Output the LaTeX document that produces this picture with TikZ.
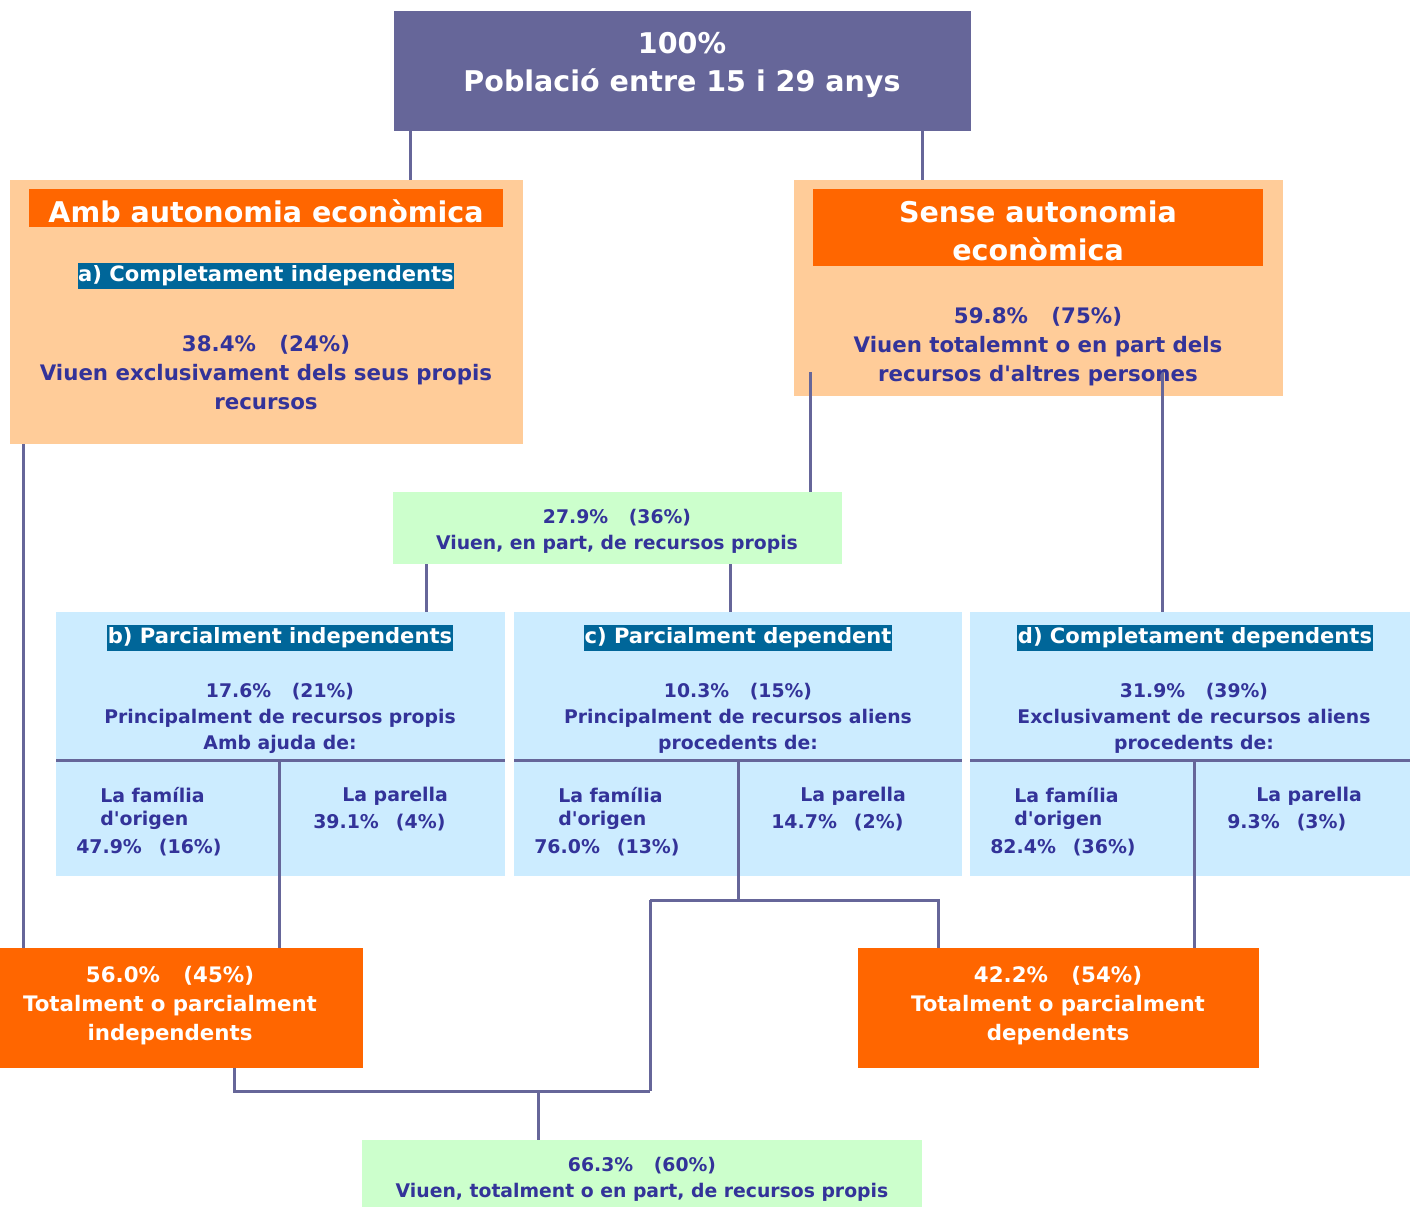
\documentclass[tikz,border=0pt]{standalone}
\usepackage{fontspec}
\setmainfont{DejaVu Sans}[Ligatures=TeXOff]
\definecolor{topc}{HTML}{666699}
\definecolor{lorange}{HTML}{FFCC99}
\definecolor{orange}{HTML}{FF6600}
\definecolor{labc}{HTML}{006699}
\definecolor{lblue}{HTML}{CCECFF}
\definecolor{lgreen}{HTML}{CCFFCC}
\definecolor{txtc}{HTML}{333399}
\definecolor{linec}{HTML}{666699}
\begin{document}
\begin{tikzpicture}[x=0.75pt,y=-0.75pt,
  bx/.style 2 args={inner sep=0pt,outer sep=0pt,anchor=north west,minimum width=#1*0.75pt,minimum height=#2*0.75pt},
  conn/.style={draw=linec,line width=2.25pt},
  body/.style={text=txtc,font=\bfseries\fontsize{16}{21.75}\selectfont,align=center,inner sep=0pt},
  small/.style={text=txtc,font=\bfseries\fontsize{14.1}{19.5}\selectfont,align=center,inner sep=0pt},
  cell/.style={text=txtc,font=\bfseries\fontsize{14.2}{19}\selectfont,inner sep=0pt,anchor=west},
  wbody/.style={text=white,font=\bfseries\fontsize{16}{21.75}\selectfont,align=center,inner sep=0pt},
  head/.style={text=white,font=\bfseries\fontsize{21.4}{28.5}\selectfont,align=center,inner sep=0pt},
  lab/.style={text=white,fill=labc,font=\bfseries\fontsize{15.8}{17}\selectfont,inner xsep=0.5pt,inner ysep=2pt}
]
\fill[white] (0,0) rectangle (1410,1207);
\useasboundingbox (0,0) rectangle (1410,1207);

% boxes
\node[bx={577}{120},fill=topc] (top) at (394,11) {};
\node[bx={513}{264},fill=lorange] (L) at (10,180) {};
\node[bx={474}{38},fill=orange] (Lh) at (29,189) {};
\node[bx={489}{216},fill=lorange] (R) at (794,180) {};
\node[bx={450}{77},fill=orange] (Rh) at (813,189) {};
\node[bx={449}{72},fill=lgreen] (G1) at (393,492) {};
\node[bx={449}{264},fill=lblue] (B) at (56,612) {};
\node[bx={448}{264},fill=lblue] (C) at (514,612) {};
\node[bx={440}{264},fill=lblue] (D) at (970,612) {};
\node[bx={363}{120},fill=orange] (OL) at (0,948) {};
\node[bx={401}{120},fill=orange] (OR) at (858,948) {};
\node[bx={560}{67},fill=lgreen] (G2) at (362,1140) {};

% junction coordinates
\coordinate (r1) at (810,372);
\coordinate (r2) at (1162,372);
\coordinate (bd) at (279,760);
\coordinate (cd) at (738,760);
\coordinate (dd) at (1194,760);
\coordinate (cj) at (738,900);
\coordinate (cl) at (650,900);
\coordinate (cr) at (938,900);
\coordinate (bl) at (234,1091);
\coordinate (bm) at (538,1091);
\coordinate (br) at (650,1091);

% connectors
\draw[conn] (top.south -| 410,0) -- (L.north -| 410,0);
\draw[conn] (top.south -| 922,0) -- (R.north -| 922,0);
\draw[conn] (L.south -| 23,0) -- (OL.north -| 23,0);
\draw[conn] (r1) -- (G1.north -| r1);
\draw[conn] (r2) -- (D.north -| r2);
\draw[conn] (G1.south -| 426,0) -- (B.north -| 426,0);
\draw[conn] (G1.south -| 730,0) -- (C.north -| 730,0);
\draw[conn] (B.west |- bd) -- (B.east |- bd);
\draw[conn] (C.west |- cd) -- (C.east |- cd);
\draw[conn] (D.west |- dd) -- (D.east |- dd);
\draw[conn] (bd) -- (OL.north -| bd);
\draw[conn] (dd) -- (OR.north -| dd);
\draw[conn] (cd) -- (cj);
\draw[conn] (cl) -- (cr) -- (OR.north -| cr);
\draw[conn] (cl) -- (br);
\draw[conn] (OL.south -| bl) -- (bl) -- (br);
\draw[conn] (bm) -- (G2.north -| bm);

% texts
\node[head] (t0) at (682,65) {100\%\\Població entre 15 i 29 anys};
\node[head] (t1) at (266,211) {Amb autonomia econòmica};
\node[lab] (la) at (266,276) {a) Completament independents};
\node[body] (t2) at (266,373) {38.4\%\hspace{1.1em}(24\%)\\Viuen exclusivament dels seus propis\\recursos};
\node[head] (t3) at (1038,231) {Sense autonomia\\econòmica};
\node[body] (t4) at (1038,347) {59.8\%\hspace{1.1em}(75\%)\\Viuen totalemnt o en part dels\\recursos d'altres persones};
\node[small] (t5) at (617,531) {27.9\%\hspace{1.1em}(36\%)\\Viuen, en part, de recursos propis};

\node[lab] (lb) at (280,638) {b) Parcialment independents};
\node[small] (t6) at (280,718) {17.6\%\hspace{1.1em}(21\%)\\Principalment de recursos propis\\Amb ajuda de:};
\node[cell] (b1) at (100,795) {La família};
\node[cell] (b2) at (100,820) {d'origen};
\node[cell] (b3) at (76,848) {47.9\%\hspace{0.9em}(16\%)};
\node[cell] (b4) at (342,796) {La parella};
\node[cell] (b5) at (313,823) {39.1\%\hspace{0.9em}(4\%)};

\node[lab] (lc) at (738,638) {c) Parcialment dependent};
\node[small] (t7) at (738,718) {10.3\%\hspace{1.1em}(15\%)\\Principalment de recursos aliens\\procedents de:};
\node[cell] (c1) at (558,795) {La família};
\node[cell] (c2) at (558,820) {d'origen};
\node[cell] (c3) at (534,848) {76.0\%\hspace{0.9em}(13\%)};
\node[cell] (c4) at (800,796) {La parella};
\node[cell] (c5) at (771,823) {14.7\%\hspace{0.9em}(2\%)};

\node[lab] (ld) at (1195,638) {d) Completament dependents};
\node[small] (t8) at (1194,718) {31.9\%\hspace{1.1em}(39\%)\\Exclusivament de recursos aliens\\procedents de:};
\node[cell] (d1) at (1014,795) {La família};
\node[cell] (d2) at (1014,820) {d'origen};
\node[cell] (d3) at (990,848) {82.4\%\hspace{0.9em}(36\%)};
\node[cell] (d4) at (1256,796) {La parella};
\node[cell] (d5) at (1227,823) {9.3\%\hspace{0.9em}(3\%)};

\node[wbody] (t9) at (170,1006) {56.0\%\hspace{1.1em}(45\%)\\Totalment o parcialment\\independents};
\node[wbody] (t10) at (1058,1006) {42.2\%\hspace{1.1em}(54\%)\\Totalment o parcialment\\dependents};
\node[small] (t11) at (642,1179) {66.3\%\hspace{1.1em}(60\%)\\Viuen, totalment o en part, de recursos propis};
\end{tikzpicture}
\end{document}
